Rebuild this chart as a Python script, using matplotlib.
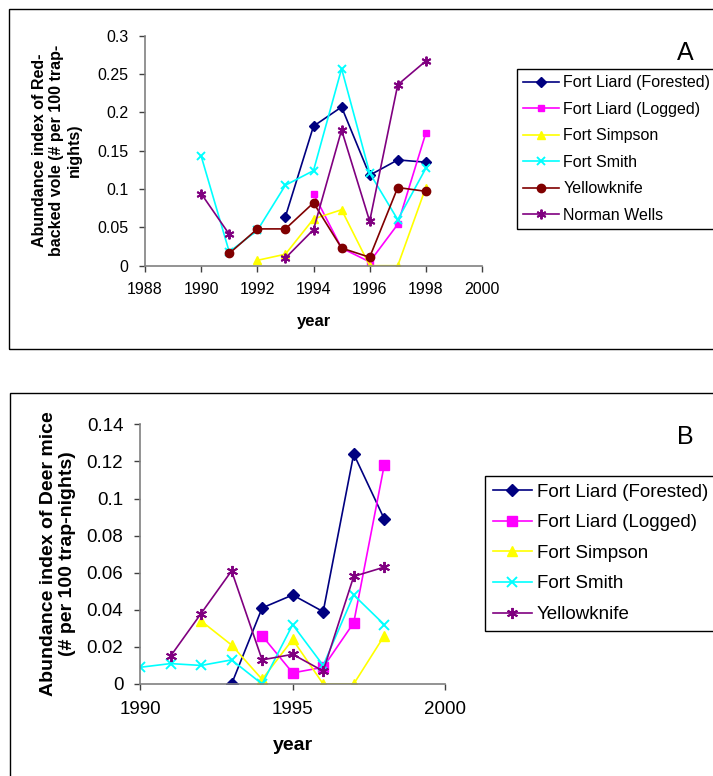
import numpy as np
import matplotlib.pyplot as plt
from matplotlib.patches import Rectangle

plt.rcParams['font.family'] = ['Liberation Sans', 'DejaVu Sans']

nan = np.nan

# Panel A: Red-backed vole
anios_a = [1990, 1991, 1992, 1993, 1994, 1995, 1996, 1997, 1998]
liard_for_a = [nan, nan, nan, 0.064, 0.182, 0.207, 0.118, 0.138, 0.135]
liard_log_a = [nan, nan, nan, nan, 0.094, 0.023, 0.005, 0.054, 0.173]
simpson_a = [nan, nan, 0.007, 0.015, 0.061, 0.073, 0.0, 0.0, 0.102]
smith_a = [0.143, 0.018, 0.046, 0.105, 0.124, 0.257, 0.121, 0.060, 0.127]
yellowknife_a = [nan, 0.016, 0.048, 0.048, 0.082, 0.023, 0.011, 0.102, 0.097]
norman_a = [0.094, 0.041, nan, 0.010, 0.047, 0.177, 0.058, 0.236, 0.267]

# Panel B: Deer mice
anios_b = [1990, 1991, 1992, 1993, 1994, 1995, 1996, 1997, 1998]
liard_for_b = [nan, nan, nan, 0.0, 0.041, 0.048, 0.039, 0.124, 0.089]
liard_log_b = [nan, nan, nan, nan, 0.026, 0.006, 0.009, 0.033, 0.118]
simpson_b = [nan, nan, 0.034, 0.021, 0.0025, 0.024, 0.0, 0.0, 0.026]
smith_b = [0.009, 0.011, 0.010, 0.013, 0.0, 0.032, 0.010, 0.048, 0.032]
yellowknife_b = [nan, 0.015, 0.038, 0.061, 0.013, 0.016, 0.007, 0.058, 0.063]

asterisco = (6, 2, 0)

series_a = [
    ('Fort Liard (Forested)', liard_for_a, '#000080', 'D', 5),
    ('Fort Liard (Logged)', liard_log_a, '#FF00FF', 's', 5),
    ('Fort Simpson', simpson_a, '#FFFF00', '^', 6),
    ('Fort Smith', smith_a, '#00FFFF', 'x', 6),
    ('Yellowknife', yellowknife_a, '#800000', 'o', 6),
    ('Norman Wells', norman_a, '#800080', asterisco, 7),
]
series_b = [
    ('Fort Liard (Forested)', liard_for_b, '#000080', 'D', 6),
    ('Fort Liard (Logged)', liard_log_b, '#FF00FF', 's', 6.5),
    ('Fort Simpson', simpson_b, '#FFFF00', '^', 7),
    ('Fort Smith', smith_b, '#00FFFF', 'x', 7),
    ('Yellowknife', yellowknife_b, '#800080', asterisco, 8),
]

fig = plt.figure(figsize=(7.13, 7.76), dpi=100)

# recuadros exteriores
fig.add_artist(Rectangle((9 / 713, 1 - 349 / 776), 1.2, 340 / 776,
                         transform=fig.transFigure, fill=False, ec='black', lw=1, clip_on=False))
fig.add_artist(Rectangle((10 / 713, -0.2), 1.2, 0.2 + 1 - 393 / 776,
                         transform=fig.transFigure, fill=False, ec='black', lw=1, clip_on=False))


def dibujar(ax, x, series, fs_tick):
    for nombre, y, color, marker, ms in series:
        y = np.array(y, dtype=float)
        mew = 1.4 if marker in ('x', asterisco) else 1.0
        ax.plot(x, y, color=color, lw=1.2, marker=marker, markersize=ms,
                markerfacecolor=color, markeredgecolor=color, markeredgewidth=mew,
                label=nombre)
    for lado in ('top', 'right'):
        ax.spines[lado].set_visible(False)
    for lado in ('left', 'bottom'):
        ax.spines[lado].set_color('#808080')
        ax.spines[lado].set_linewidth(1.2)
    ax.tick_params(direction='out', length=4, width=1, color='#404040',
                   labelsize=fs_tick, pad=8)


# Panel A
ax1 = fig.add_axes([145 / 713, 1 - 265.7 / 776, 337 / 713, 230 / 776])
dibujar(ax1, anios_a, series_a, 11.5)
ax1.set_xlim(1988, 2000)
ax1.set_ylim(0, 0.3)
ax1.set_xticks(np.arange(1988, 2001, 2))
ax1.set_yticks([0, 0.05, 0.1, 0.15, 0.2, 0.25, 0.3])
ax1.set_yticklabels(['0', '0.05', '0.1', '0.15', '0.2', '0.25', '0.3'])
ax1.set_xlabel('year', fontsize=12, fontweight='bold', labelpad=12)
fig.text(57 / 713, 1 - 150 / 776,
         'Abundance index of Red-\nbacked vole (# per 100 trap-\nnights)',
         fontsize=11.5, fontweight='bold', rotation=90, ha='center', va='center',
         multialignment='center', linespacing=1.22)
fig.legend(*ax1.get_legend_handles_labels(), loc='upper left',
           bbox_to_anchor=(517 / 713, 1 - 69 / 776), fontsize=11.5, frameon=True,
           fancybox=False, edgecolor='black', framealpha=1, borderaxespad=0,
           handlelength=2.2, handletextpad=0.3, labelspacing=0.72, borderpad=0.4)
fig.text(685 / 713, 1 - 53 / 776, 'A', fontsize=18, ha='center', va='center')

# Panel B
ax2 = fig.add_axes([140 / 713, 1 - 684 / 776, 305.3 / 713, 259.7 / 776])
dibujar(ax2, anios_b, series_b, 13.5)
ax2.set_xlim(1990, 2000)
ax2.set_ylim(0, 0.14)
ax2.set_xticks([1990, 1995, 2000])
ax2.set_yticks([0, 0.02, 0.04, 0.06, 0.08, 0.1, 0.12, 0.14])
ax2.set_yticklabels(['0', '0.02', '0.04', '0.06', '0.08', '0.1', '0.12', '0.14'])
ax2.set_xlabel('year', fontsize=14, fontweight='bold', labelpad=14)
fig.text(58 / 713, 1 - 554 / 776,
         'Abundance index of Deer mice\n(# per 100 trap-nights)',
         fontsize=14, fontweight='bold', rotation=90, ha='center', va='center',
         multialignment='center', linespacing=1.22)
fig.legend(*ax2.get_legend_handles_labels(), loc='upper left',
           bbox_to_anchor=(485 / 713, 1 - 476 / 776), fontsize=13.5, frameon=True,
           fancybox=False, edgecolor='black', framealpha=1, borderaxespad=0,
           handlelength=2.1, handletextpad=0.27, labelspacing=0.72, borderpad=0.4)
fig.text(685 / 713, 1 - 437 / 776, 'B', fontsize=18, ha='center', va='center')

fig.savefig('out.png', dpi=100)
